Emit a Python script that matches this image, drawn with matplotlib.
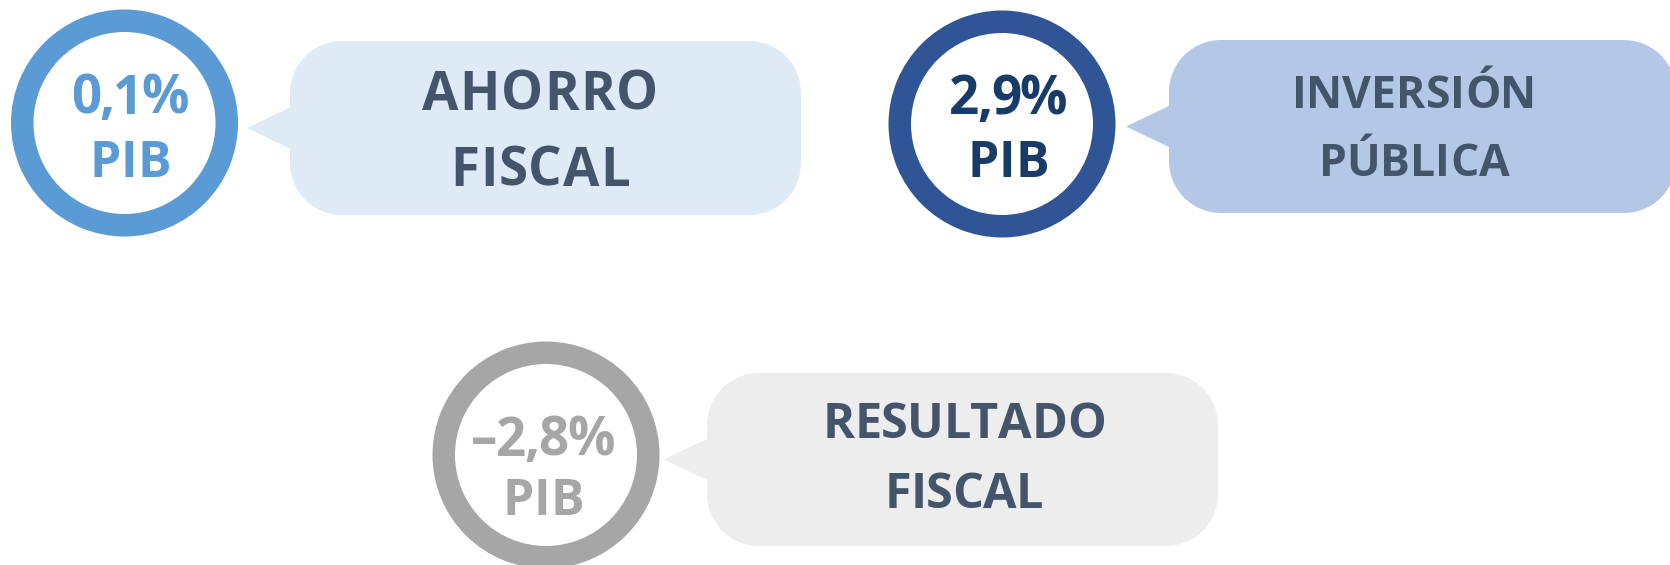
import matplotlib
matplotlib.use("Agg")
import matplotlib.pyplot as plt
from matplotlib.patches import Wedge, Polygon
from matplotlib.font_manager import FontProperties, findfont
from matplotlib import ft2font
import numpy as np

# Data
values = ["0,1%", "2,9%", "–2,8%"]
unit = "PIB"
labels_top = ["AHORRO", "INVERSIÓN", "RESULTADO"]
labels_bottom = ["FISCAL", "PÚBLICA", "FISCAL"]

ring_colors = ["#5B9BD5", "#2F5597", "#A6A6A6"]
value_colors = ["#5B9BD5", "#183B68", "#A6A6A6"]
bubble_colors = ["#DEEAF6", "#B4C7E7", "#EDEDED"]
label_color = "#44546A"

# Layout in pixels (y grows downward)
circles = [(124.5, 123), (1002, 124), (546, 455)]
value_y = [(94, 159), (95, 159), (436, 497)]
value_x = [130, 1008, 543]
bubbles = [(290, 41, 801, 215), (1169, 40, 1676, 213), (707, 373, 1218, 546)]
label_x = [540, 1414, 964]
label_y = [(90, 166), (92, 160), (421, 490)]
label_size = [38, 32, 35]
label_track = [1, 0, -0.5]
R_OUT, R_IN = 113.5, 91

W, H, DPI = 1670, 565, 100
FAMILY = "Open Sans"

fig = plt.figure(figsize=(W / DPI, H / DPI), dpi=DPI)
ax = fig.add_axes([0, 0, 1, 1])
ax.set_xlim(0, W)
ax.set_ylim(H, 0)
ax.axis("off")


def spaced_text(ax, cx, cy, s, size, color, track=0.0, weight="bold"):
    # draw s centred on (cx, cy) with extra letter spacing in px
    prop = FontProperties(family=FAMILY, weight=weight, size=size)
    font = ft2font.FT2Font(findfont(prop))
    font.set_size(size, DPI)
    advs = []
    for c in s:
        g = font.load_char(ord(c))
        advs.append(g.linearHoriAdvance / 65536.0)
    cap = font.load_char(ord("H")).height / 64.0
    total = sum(advs) + track * (len(s) - 1)
    x = cx - total / 2.0
    base = cy + cap / 2.0
    for c, a in zip(s, advs):
        ax.text(x, base, c, fontproperties=prop, color=color,
                ha="left", va="baseline")
        x += a + track


def round_rect(x0, y0, x1, y1, r, color):
    pts = []
    corners = [(x1 - r, y0 + r, -90, 0), (x1 - r, y1 - r, 0, 90),
               (x0 + r, y1 - r, 90, 180), (x0 + r, y0 + r, 180, 270)]
    for cx, cy, a0, a1 in corners:
        t = np.radians(np.linspace(a0, a1, 20))
        pts += list(zip(cx + r * np.cos(t), cy + r * np.sin(t)))
    ax.add_patch(Polygon(pts, closed=True, facecolor=color, edgecolor="none"))


for i in range(3):
    cx, cy = circles[i]
    ax.add_patch(Wedge((cx, cy), R_OUT, 0, 360, width=R_OUT - R_IN,
                       facecolor=ring_colors[i], edgecolor="none"))

    x0, y0, x1, y1 = bubbles[i]
    round_rect(x0, y0, x1, y1, 52, bubble_colors[i])
    mid = (y0 + y1) / 2.0
    tip = x0 - 43
    ax.add_patch(Polygon([(tip, mid), (x0 + 1, mid - 21), (x0 + 1, mid + 21)],
                         closed=True, facecolor=bubble_colors[i],
                         edgecolor="none"))

    spaced_text(ax, value_x[i], value_y[i][0], values[i], 38,
                value_colors[i], track=-1.5)
    spaced_text(ax, value_x[i], value_y[i][1], unit, 36,
                value_colors[i], track=0)

    spaced_text(ax, label_x[i], label_y[i][0], labels_top[i], label_size[i],
                label_color, track=label_track[i])
    spaced_text(ax, label_x[i], label_y[i][1], labels_bottom[i],
                label_size[i], label_color, track=label_track[i])

fig.savefig("out.png", dpi=DPI)
